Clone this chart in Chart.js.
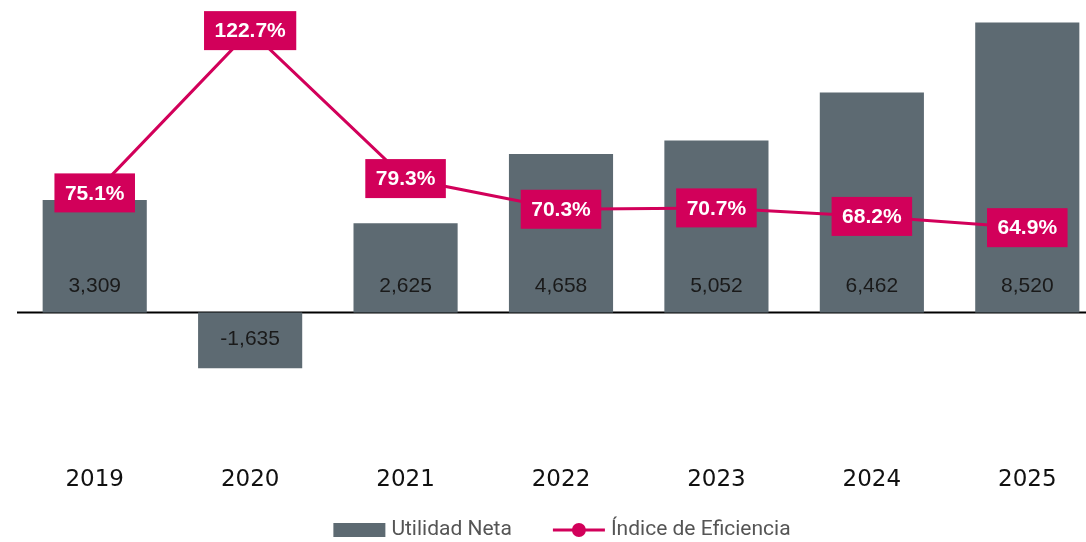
<!DOCTYPE html>
<html>
<head>
<meta charset="utf-8">
<script src="https://cdn.jsdelivr.net/npm/chart.js@4.4.1/dist/chart.umd.min.js"></script>
<style>
  html, body { margin: 0; padding: 0; background: #ffffff; overflow: hidden; }
  #wrap { position: relative; width: 1105px; height: 542px; }
</style>
</head>
<body>
<div id="wrap"><canvas id="c"></canvas></div>
<script>
// ---- data ----
const categories = ['2019', '2020', '2021', '2022', '2023', '2024', '2025'];
const utilidadNeta = [3309, -1635, 2625, 4658, 5052, 6462, 8520];
const indiceEficiencia = [75.1, 122.7, 79.3, 70.3, 70.7, 68.2, 64.9];
const seriesNames = ['Utilidad Neta', 'Índice de Eficiencia'];

// ---- styles ----
const BAR_COLOR = '#5d6a72';
const LINE_COLOR = '#d2005a';
const numFmt = new Intl.NumberFormat('en-US');

const labelsPlugin = {
  id: 'customLabels',
  beforeDatasetsDraw(chart) {
    const y = chart.scales.y;
    const ctx = chart.ctx;
    const zy = y.getPixelForValue(0);
    ctx.save();
    ctx.strokeStyle = '#000000';
    ctx.lineWidth = 2;
    ctx.beginPath();
    ctx.moveTo(chart.chartArea.left, zy);
    ctx.lineTo(chart.chartArea.right, zy);
    ctx.stroke();
    ctx.restore();
  },
  afterDatasetsDraw(chart) {
    const ctx = chart.ctx;
    const y = chart.scales.y;
    const zy = y.getPixelForValue(0);
    const barMeta = chart.getDatasetMeta(0);
    ctx.save();
    ctx.font = '21px "Liberation Sans", Arial, sans-serif';
    ctx.fillStyle = '#1a1a1a';
    ctx.textAlign = 'center';
    ctx.textBaseline = 'middle';
    barMeta.data.forEach((el, i) => {
      const v = utilidadNeta[i];
      const ty = v >= 0 ? zy - 26 : zy + 27;
      ctx.fillText(numFmt.format(v), el.x, ty);
    });
    const lineMeta = chart.getDatasetMeta(1);
    ctx.font = 'bold 21px "Liberation Sans", Arial, sans-serif';
    lineMeta.data.forEach((el, i) => {
      const txt = indiceEficiencia[i].toFixed(1) + '%';
      const w = ctx.measureText(txt).width + 21;
      const h = 39;
      ctx.fillStyle = LINE_COLOR;
      ctx.fillRect(el.x - w / 2, el.y - h / 2, w, h);
      ctx.fillStyle = '#ffffff';
      ctx.fillText(txt, el.x, el.y + 1);
    });
    ctx.restore();
  },
  afterDraw(chart) {
    const ctx = chart.ctx;
    ctx.save();
    ctx.font = '21px Roboto, "Noto Sans", sans-serif';
    const t1 = seriesNames[0], t2 = seriesNames[1];
    const w1 = ctx.measureText(t1).width;
    const w2 = ctx.measureText(t2).width;
    const sw = 52, gapText = 6, gapItems = 41;
    const total = sw + gapText + w1 + gapItems + sw + gapText + w2;
    const cx = (chart.chartArea.left + chart.chartArea.right) / 2 + 1;
    let x = cx - total / 2;
    const ly = 530;
    ctx.fillStyle = BAR_COLOR;
    ctx.fillRect(x, ly - 7, sw, 14);
    x += sw + gapText;
    ctx.fillStyle = '#555555';
    ctx.textAlign = 'left';
    ctx.textBaseline = 'middle';
    ctx.fillText(t1, x, ly);
    x += w1 + gapItems;
    ctx.strokeStyle = LINE_COLOR;
    ctx.lineWidth = 3;
    ctx.beginPath();
    ctx.moveTo(x, ly);
    ctx.lineTo(x + sw, ly);
    ctx.stroke();
    ctx.fillStyle = LINE_COLOR;
    ctx.beginPath();
    ctx.arc(x + sw / 2, ly, 7, 0, Math.PI * 2);
    ctx.fill();
    x += sw + gapText;
    ctx.fillStyle = '#555555';
    ctx.fillText(t2, x, ly);
    ctx.restore();
  }
};

new Chart(document.getElementById('c'), {
  data: {
    labels: categories,
    datasets: [
      {
        type: 'bar',
        label: seriesNames[0],
        data: utilidadNeta,
        backgroundColor: BAR_COLOR,
        barPercentage: 0.67,
        categoryPercentage: 1,
        yAxisID: 'y',
        order: 2
      },
      {
        type: 'line',
        label: seriesNames[1],
        data: indiceEficiencia,
        borderColor: LINE_COLOR,
        backgroundColor: LINE_COLOR,
        borderWidth: 3,
        pointRadius: 0,
        tension: 0,
        yAxisID: 'y2',
        order: 1
      }
    ]
  },
  options: {
    responsive: true,
    maintainAspectRatio: false,
    animation: false,
    layout: { padding: { left: 17, right: 0, top: 10, bottom: 40 } },
    plugins: {
      legend: { display: false },
      tooltip: { enabled: false }
    },
    scales: {
      x: {
        grid: { display: false, drawTicks: false },
        border: { display: false },
        ticks: {
          padding: 8,
          color: '#111111',
          font: { family: '"DejaVu Sans", sans-serif', size: 23 }
        }
      },
      y: {
        display: false,
        min: -4280,
        max: 8884
      },
      y2: {
        display: false,
        min: -2.78,
        max: 128.75
      }
    }
  },
  plugins: [labelsPlugin]
});
</script>
</body>
</html>
